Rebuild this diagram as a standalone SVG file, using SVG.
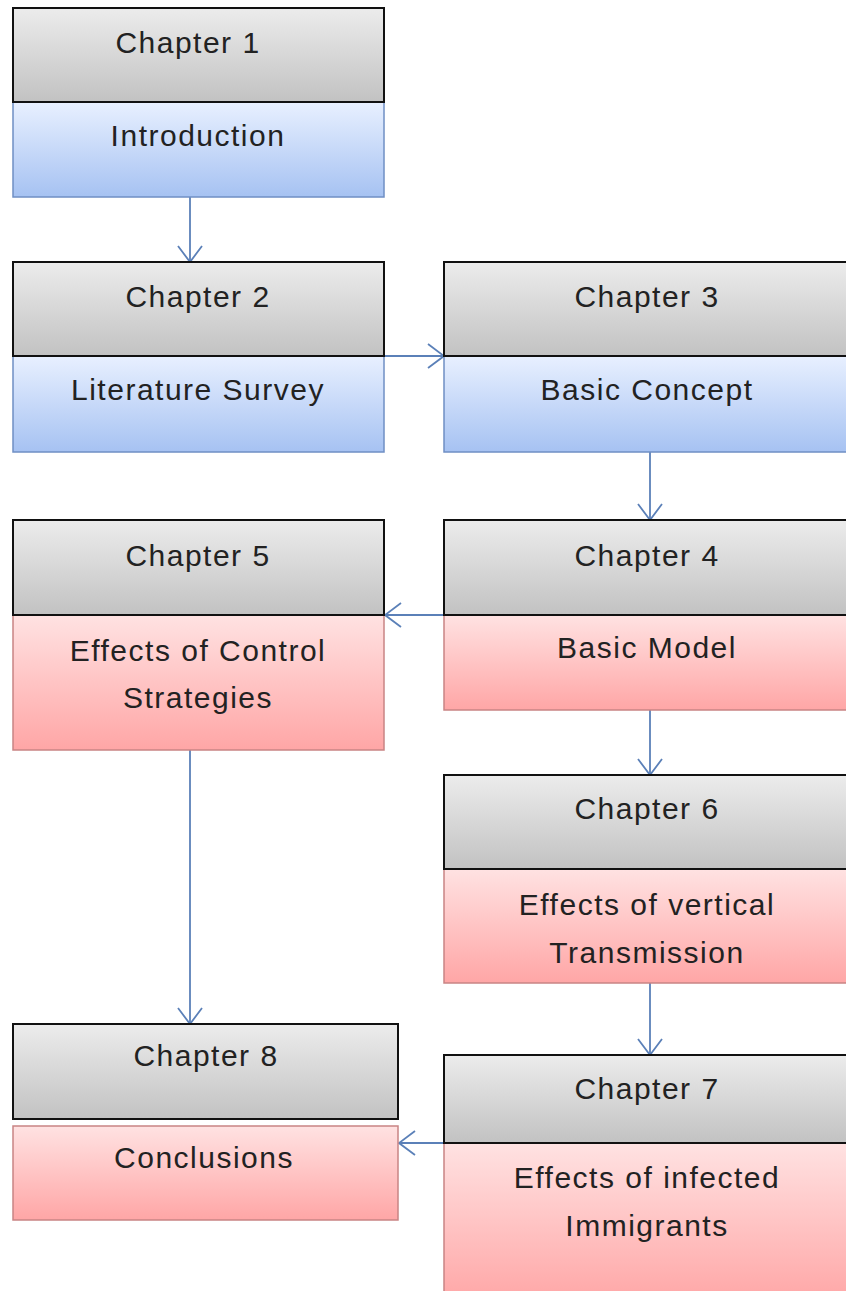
<svg xmlns="http://www.w3.org/2000/svg" width="846" height="1291" viewBox="0 0 846 1291">
<defs>
<linearGradient id="gGray" x1="0" y1="0" x2="0" y2="1"><stop offset="0" stop-color="#ececec"/><stop offset="1" stop-color="#c2c2c2"/></linearGradient>
<linearGradient id="gBlue" x1="0" y1="0" x2="0" y2="1"><stop offset="0" stop-color="#e8f0ff"/><stop offset="1" stop-color="#a6c2f2"/></linearGradient>
<linearGradient id="gRed" x1="0" y1="0" x2="0" y2="1"><stop offset="0" stop-color="#ffe2e2"/><stop offset="1" stop-color="#ffa6a6"/></linearGradient>
<marker id="arr" viewBox="0 0 18 26" refX="17" refY="13" markerWidth="18" markerHeight="26" markerUnits="userSpaceOnUse" orient="auto">
<path d="M1,1 L17,13 L1,25" fill="none" stroke="#5b80b8" stroke-width="1.8"/>
</marker>
</defs>
<style>
.gray{fill:url(#gGray);stroke:#111;stroke-width:2}
.blue{fill:url(#gBlue);stroke:#6f8fc4;stroke-width:1.5}
.red{fill:url(#gRed);stroke:#c98484;stroke-width:1.5}
text{font-family:"Liberation Sans",Arial,sans-serif;font-size:30px;letter-spacing:1.5px;fill:#222;text-anchor:middle}
.con{stroke:#5b80b8;stroke-width:1.8;fill:none;marker-end:url(#arr)}
</style>
<rect width="846" height="1291" fill="#fff"/>
<g id="connectors">
<line class="con" x1="190" y1="197" x2="190" y2="262"/>
<line class="con" x1="384" y1="356" x2="444" y2="356"/>
<line class="con" x1="650" y1="452" x2="650" y2="520"/>
<line class="con" x1="444" y1="615" x2="385" y2="615"/>
<line class="con" x1="650" y1="710" x2="650" y2="775"/>
<line class="con" x1="190" y1="750" x2="190" y2="1024"/>
<line class="con" x1="650" y1="983" x2="650" y2="1055"/>
<line class="con" x1="444" y1="1143" x2="399" y2="1143"/>
</g>
<g id="ch1">
<rect class="blue" x="13" y="102" width="371" height="95"/>
<rect class="gray" x="13" y="8" width="371" height="94"/>
<text x="188" y="53">Chapter 1</text>
<text x="198" y="146">Introduction</text>
</g>
<g id="ch2">
<rect class="blue" x="13" y="356" width="371" height="96"/>
<rect class="gray" x="13" y="262" width="371" height="94"/>
<text x="198" y="307">Chapter 2</text>
<text x="198" y="400">Literature Survey</text>
</g>
<g id="ch3">
<rect class="blue" x="444" y="356" width="410" height="96"/>
<rect class="gray" x="444" y="262" width="410" height="94"/>
<text x="647" y="307">Chapter 3</text>
<text x="647" y="400">Basic Concept</text>
</g>
<g id="ch5">
<rect class="red" x="13" y="615" width="371" height="135"/>
<rect class="gray" x="13" y="520" width="371" height="95"/>
<text x="198" y="566">Chapter 5</text>
<text x="198" y="661">Effects of Control</text>
<text x="198" y="708">Strategies</text>
</g>
<g id="ch4">
<rect class="red" x="444" y="615" width="410" height="95"/>
<rect class="gray" x="444" y="520" width="410" height="95"/>
<text x="647" y="566">Chapter 4</text>
<text x="647" y="658">Basic Model</text>
</g>
<g id="ch6">
<rect class="red" x="444" y="869" width="410" height="114"/>
<rect class="gray" x="444" y="775" width="410" height="94"/>
<text x="647" y="819">Chapter 6</text>
<text x="647" y="915">Effects of vertical</text>
<text x="647" y="963">Transmission</text>
</g>
<g id="ch8">
<rect class="red" x="13" y="1126" width="385" height="94"/>
<rect class="gray" x="13" y="1024" width="385" height="95"/>
<text x="206" y="1066">Chapter 8</text>
<text x="204" y="1168">Conclusions</text>
</g>
<g id="ch7">
<rect class="red" x="444" y="1143" width="410" height="160"/>
<rect class="gray" x="444" y="1055" width="410" height="88"/>
<text x="647" y="1099">Chapter 7</text>
<text x="647" y="1188">Effects of infected</text>
<text x="647" y="1236">Immigrants</text>
</g>
</svg>
